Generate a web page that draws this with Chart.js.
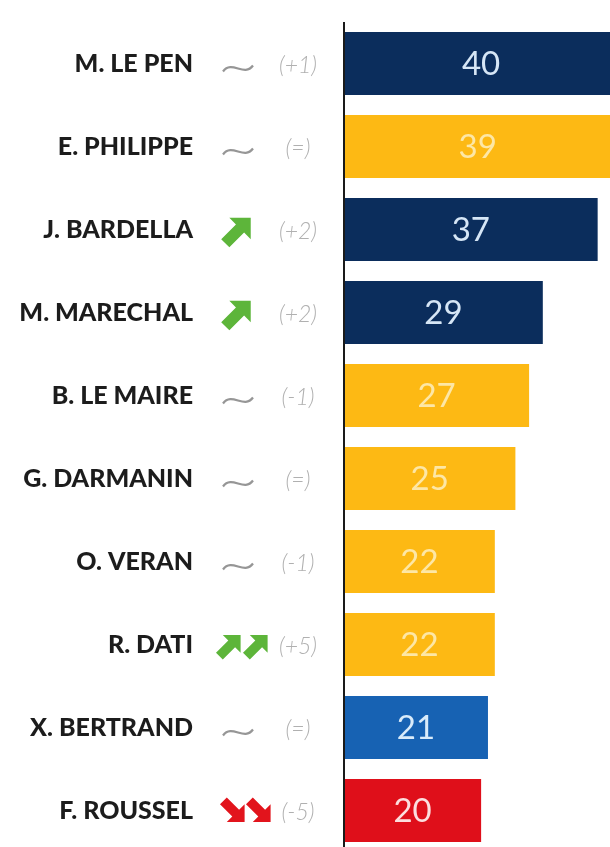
<!DOCTYPE html>
<html>
<head>
<meta charset="utf-8">
<script src="https://cdn.jsdelivr.net/npm/chart.js@4/dist/chart.umd.min.js"></script>
<style>
  html, body { margin: 0; padding: 0; background: #fff; overflow: hidden; }
  #wrap { position: relative; width: 610px; height: 852px; }
</style>
</head>
<body>
<div id="wrap"><canvas id="chart"></canvas></div>
<script>
// Popularity scores
const names = ['M. LE PEN', 'E. PHILIPPE', 'J. BARDELLA', 'M. MARECHAL', 'B. LE MAIRE',
               'G. DARMANIN', 'O. VERAN', 'R. DATI', 'X. BERTRAND', 'F. ROUSSEL'];
const scores = [40, 39, 37, 29, 27, 25, 22, 22, 21, 20];
const parties = ['RN', 'ENS', 'RN', 'REC', 'ENS', 'ENS', 'ENS', 'ENS', 'LR', 'PCF'];
const trends = ['same', 'same', 'up', 'up', 'same', 'same', 'same', 'up2', 'same', 'down2'];
const changes = [1, 0, 2, 2, -1, 0, -1, 5, 0, -5];

// Party colours
const barColors = { RN: '#0b2d5c', REC: '#0b2d5c', ENS: '#fdb914', LR: '#1762b3', PCF: '#df0f1a' };
const valueColors = { RN: '#d6e6f6', REC: '#d6e6f6', ENS: '#fde7a6', LR: '#d9ebfa', PCF: '#fcdede' };

const NAME_FONT = '900 25px Lato';
const VALUE_FONT = '33px Lato';
const CHANGE_FONT = 'italic 300 23px Lato';

function formatChange(v) {
    if (v === 0) return '(=)';
    return '(' + (v > 0 ? '+' : '-') + Math.abs(v) + ')';
}

// Thick arrow, pointing right before rotation
function drawArrow(ctx, cx, cy, len, angle, color) {
    const t = len * 0.32, h = len * 0.42;
    ctx.save();
    ctx.translate(cx, cy);
    ctx.rotate(angle);
    ctx.fillStyle = color;
    ctx.beginPath();
    ctx.moveTo(-len / 2, -t / 2);
    ctx.lineTo(len / 2 - h, -t / 2);
    ctx.lineTo(len / 2 - h, -h);
    ctx.lineTo(len / 2, 0);
    ctx.lineTo(len / 2 - h, h);
    ctx.lineTo(len / 2 - h, t / 2);
    ctx.lineTo(-len / 2, t / 2);
    ctx.closePath();
    ctx.fill();
    ctx.restore();
}

function drawTilde(ctx, cx, cy) {
    ctx.save();
    ctx.strokeStyle = '#969696';
    ctx.lineWidth = 2.2;
    ctx.beginPath();
    ctx.moveTo(cx - 15, cy + 3);
    ctx.bezierCurveTo(cx - 6, cy - 9, cx + 6, cy + 9, cx + 15, cy - 3);
    ctx.stroke();
    ctx.restore();
}

function drawTrend(ctx, kind, y) {
    const green = '#5db53a', red = '#e2141c';
    if (kind === 'same') drawTilde(ctx, 238, y + 5);
    else if (kind === 'up') drawArrow(ctx, 238, y + 1, 36, -Math.PI / 4, green);
    else if (kind === 'up2') {
        drawArrow(ctx, 230, y + 1, 30, -Math.PI / 4, green);
        drawArrow(ctx, 257, y + 1, 30, -Math.PI / 4, green);
    } else if (kind === 'down2') {
        drawArrow(ctx, 234, y + 1, 30, Math.PI / 4, red);
        drawArrow(ctx, 260, y + 1, 30, Math.PI / 4, red);
    }
}

// Left-hand labels, values in bars and the axis line
const labelsPlugin = {
    id: 'rowLabels',
    afterDatasetsDraw(chart) {
        const ctx = chart.ctx;
        const area = chart.chartArea;
        const yScale = chart.scales.y;
        const meta = chart.getDatasetMeta(0);

        ctx.save();
        meta.data.forEach((bar, i) => {
            const y = yScale.getPixelForValue(i);

            ctx.font = NAME_FONT;
            ctx.fillStyle = '#1c1c1c';
            ctx.textAlign = 'right';
            ctx.textBaseline = 'alphabetic';
            ctx.fillText(names[i], 193, y + 8);

            drawTrend(ctx, trends[i], y);

            ctx.font = CHANGE_FONT;
            ctx.fillStyle = '#b0b0b0';
            ctx.textAlign = 'center';
            ctx.fillText(formatChange(changes[i]), 298, y + 9);

            const p = bar.getProps(['x', 'base'], true);
            ctx.font = VALUE_FONT;
            ctx.fillStyle = valueColors[parties[i]];
            ctx.textBaseline = 'middle';
            ctx.fillText(String(scores[i]), (p.x + p.base) / 2, y + 1);
        });

        ctx.fillStyle = '#1a1a1a';
        ctx.fillRect(area.left - 1, area.top, 2, area.bottom - area.top);
        ctx.restore();
    }
};

new Chart(document.getElementById('chart'), {
    type: 'bar',
    data: {
        labels: names,
        datasets: [{
            data: scores,
            backgroundColor: parties.map(p => barColors[p]),
            borderWidth: 0,
            barPercentage: 0.76,
            categoryPercentage: 1
        }]
    },
    options: {
        indexAxis: 'y',
        responsive: true,
        maintainAspectRatio: false,
        animation: false,
        layout: { padding: { left: 344, top: 22, right: 0, bottom: 0 } },
        plugins: {
            legend: { display: false },
            tooltip: { enabled: false }
        },
        scales: {
            x: { display: false, min: 0, max: 38.8 },
            y: { display: false, offset: true }
        }
    },
    plugins: [labelsPlugin]
});
</script>
</body>
</html>
